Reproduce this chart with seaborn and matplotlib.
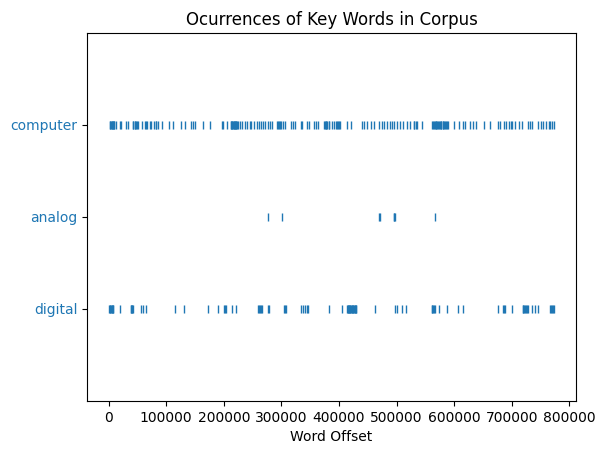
import numpy as np
import pandas as pd
import matplotlib
matplotlib.use("Agg")
import matplotlib.pyplot as plt
import seaborn as sns

# word offsets (in thousands of tokens)
words = ["computer", "analog", "digital"]

computer_k = [2, 3, 4, 5, 6, 7, 8, 9, 10, 12, 19, 22, 30, 34, 42, 43, 45, 46, 48,
              49, 51, 58, 63, 64, 66, 71, 74, 79, 82, 83, 85, 93, 104, 112, 125,
              132, 143, 147, 150, 164, 176, 196, 199, 206, 212, 213, 214, 215, 216,
              217, 218, 219, 220, 221, 222, 223, 225, 228, 232, 237, 241, 245, 248,
              253, 257, 261, 265, 268, 271, 276, 280, 283, 293, 294, 296, 297, 299,
              302, 306, 316, 321, 324, 334, 336, 344, 348, 356, 360, 364, 374, 375,
              377, 378, 380, 382, 383, 388, 391, 395, 397, 398, 400, 402, 414, 421,
              440, 444, 449, 455, 460, 469, 475, 479, 483, 489, 492, 495, 501, 506,
              511, 518, 523, 530, 531, 533, 535, 545, 562, 563, 565, 566, 568, 569,
              571, 572, 574, 575, 577, 578, 580, 581, 583, 584, 586, 587, 589, 599,
              608, 615, 619, 628, 632, 638, 651, 663, 676, 680, 686, 690, 695, 698,
              701, 706, 712, 718, 728, 731, 735, 746, 750, 754, 760, 764, 767, 770,
              773]
analog_k = [277, 301, 469, 472, 495, 496, 497, 566]
digital_k = [1, 2, 3, 4, 5, 6, 7, 8, 19, 38, 39, 40, 41, 42, 57, 59, 65, 116, 130,
             172, 190, 200, 202, 204, 214, 221, 260, 261, 263, 264, 266, 277, 279,
             305, 306, 308, 334, 337, 341, 344, 347, 383, 405, 414, 415, 416, 417,
             418, 419, 420, 421, 422, 423, 424, 425, 426, 427, 428, 429, 430, 462,
             498, 501, 510, 517, 561, 562, 564, 565, 567, 574, 588, 607, 616, 676,
             685, 687, 689, 700, 719, 720, 722, 723, 725, 727, 729, 735, 740, 745,
             767, 768, 770, 771, 773]

offsets = {"computer": computer_k, "analog": analog_k, "digital": digital_k}
word2y = {w: y for y, w in enumerate(reversed(words))}

rows = []
for w in words:
    for v in offsets[w]:
        rows.append({"offset": v * 1000, "y": word2y[w], "word": w})
df = pd.DataFrame(rows)

fig, ax = plt.subplots(figsize=(6.11, 4.55), dpi=100)
fig.subplots_adjust(left=0.1424, right=0.9427, bottom=0.1187, top=0.9275)

# "|" markers with no connecting line, like a lexical dispersion plot
sns.lineplot(data=df, x="offset", y="y", hue="word", palette=["C0"] * 3,
             estimator=None, sort=False, marker="|", linestyle="",
             markersize=6, markeredgewidth=1, markeredgecolor="C0",
             legend=False, ax=ax)

ax.set_yticks(list(range(len(words))), list(reversed(words)), color="C0")
ax.set_ylim(-1, len(words))
ax.set_title("Ocurrences of Key Words in Corpus")
ax.set_xlabel("Word Offset")
ax.set_ylabel("")

fig.savefig("out.png", dpi=100)
